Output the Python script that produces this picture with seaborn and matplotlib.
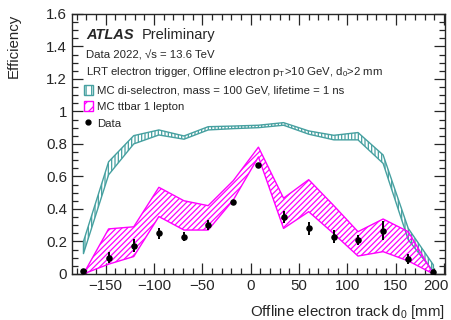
import numpy as np
import matplotlib
matplotlib.use('Agg')
import matplotlib.pyplot as plt
import seaborn as sns
from matplotlib.patches import Patch
from matplotlib.lines import Line2D
from matplotlib.ticker import MultipleLocator, FormatStrFormatter
from matplotlib.transforms import ScaledTranslation

# bin centres of offline d0 [mm]
d0 = [-173, -147, -121, -95, -69, -44, -18, 8, 34, 60, 86, 111, 137, 163, 189]

# data efficiency and its uncertainty
data_eff = [0.02, 0.10, 0.172, 0.25, 0.23, 0.30, 0.44, 0.67, 0.35, 0.28, 0.228, 0.207, 0.266, 0.094, 0.012]
data_err = [0.01, 0.035, 0.04, 0.035, 0.03, 0.03, 0.01, 0.01, 0.035, 0.04, 0.04, 0.03, 0.06, 0.03, 0.01]

# MC di-selectron band (lower, upper)
slep_lo = [0.125, 0.61, 0.80, 0.855, 0.829, 0.886, 0.894, 0.90, 0.915, 0.86, 0.825, 0.825, 0.68, 0.21, 0.015]
slep_hi = [0.20, 0.69, 0.851, 0.886, 0.849, 0.906, 0.91, 0.915, 0.931, 0.88, 0.853, 0.87, 0.732, 0.28, 0.055]

# MC ttbar band (lower, upper)
ttbar_lo = [0.0, 0.06, 0.107, 0.353, 0.27, 0.27, 0.455, 0.72, 0.28, 0.383, 0.247, 0.11, 0.137, 0.08, 0.0]
ttbar_hi = [0.0, 0.277, 0.29, 0.533, 0.45, 0.42, 0.574, 0.78, 0.466, 0.58, 0.42, 0.26, 0.338, 0.26, 0.0]

teal = '#46a0a0'
pink = '#ff00ff'

sns.set_style('ticks', {'xtick.direction': 'in', 'ytick.direction': 'in'})
plt.rcParams['font.family'] = ['Liberation Sans', 'DejaVu Sans']
plt.rcParams['mathtext.fontset'] = 'custom'
plt.rcParams['mathtext.rm'] = 'Liberation Sans'
plt.rcParams['mathtext.it'] = 'Liberation Sans:italic'
plt.rcParams['hatch.linewidth'] = 0.9

fig = plt.figure(figsize=(4.52, 3.2), dpi=100)
ax = fig.add_axes([0.159, 0.144, 0.8255, 0.8125])

ax.fill_between(d0, slep_lo, slep_hi, facecolor='none', edgecolor=teal, hatch='|||||', linewidth=1.0)
ax.fill_between(d0, ttbar_lo, ttbar_hi, facecolor='none', edgecolor=pink, hatch='//////', linewidth=1.0)

ax.errorbar(d0, data_eff, yerr=data_err, fmt='none', ecolor='black', elinewidth=1.4)
sns.scatterplot(x=d0, y=data_eff, color='black', s=22, edgecolor='black', linewidth=0, ax=ax, zorder=5)

ax.set_xlim(-185, 201)
ax.set_ylim(0, 1.6)
ax.xaxis.set_major_locator(MultipleLocator(50))
ax.xaxis.set_minor_locator(MultipleLocator(10))
ax.yaxis.set_major_locator(MultipleLocator(0.2))
ax.yaxis.set_minor_locator(MultipleLocator(0.05))
ax.yaxis.set_major_formatter(FormatStrFormatter('%g'))
ax.tick_params(which='both', direction='in', top=True, right=True, labelsize=10.8, width=0.9)
ax.tick_params(which='major', length=8)
ax.tick_params(which='minor', length=4)
for s in ax.spines.values():
    s.set_linewidth(1.0)

ax.set_xlabel('Offline electron track d$_0$ [mm]', fontsize=10.8, loc='right')
ax.xaxis.set_label_coords(1.0, -0.11)
ax.set_ylabel('Efficiency', fontsize=10.8, loc='top')
ax.yaxis.set_label_coords(-0.136, 1.0)

tr = ax.transAxes
ax.text(0.038, 0.905, 'ATLAS', fontsize=10.5, fontweight='bold', fontstyle='italic', transform=tr)
ax.text(0.188, 0.905, 'Preliminary', fontsize=10.5, transform=tr)
ax.text(0.038, 0.83, 'Data 2022, \u221as = 13.6 TeV', fontsize=8.2, transform=tr)
ax.text(0.038, 0.765, 'LRT electron trigger, Offline electron p$_\\mathrm{T}$>10 GeV, d$_0$>2 mm',
        fontsize=8.2, transform=tr)

handles = [
    Patch(facecolor='none', edgecolor=teal, hatch='|||', linewidth=1.0),
    Patch(facecolor='none', edgecolor=pink, hatch='///', linewidth=1.0),
    Line2D([], [], marker='o', color='black', linestyle='none', markersize=3.5),
]
labels = ['MC di-selectron, mass = 100 GeV, lifetime = 1 ns', 'MC ttbar 1 lepton', 'Data']
ax.legend(handles, labels, loc='upper left', bbox_to_anchor=(0.02, 0.746), frameon=False,
          fontsize=8.2, handlelength=0.8, handleheight=1.0, handletextpad=0.35, labelspacing=0.5,
          borderaxespad=0)

# keep the last x tick label inside the canvas
fig.canvas.draw()
for t in ax.xaxis.get_major_ticks():
    if abs(t.get_loc() - 200) < 1e-6:
        t.label1.set_transform(t.label1.get_transform() + ScaledTranslation(-6 / 72, 0, fig.dpi_scale_trans))

fig.savefig('out.png', dpi=100)
